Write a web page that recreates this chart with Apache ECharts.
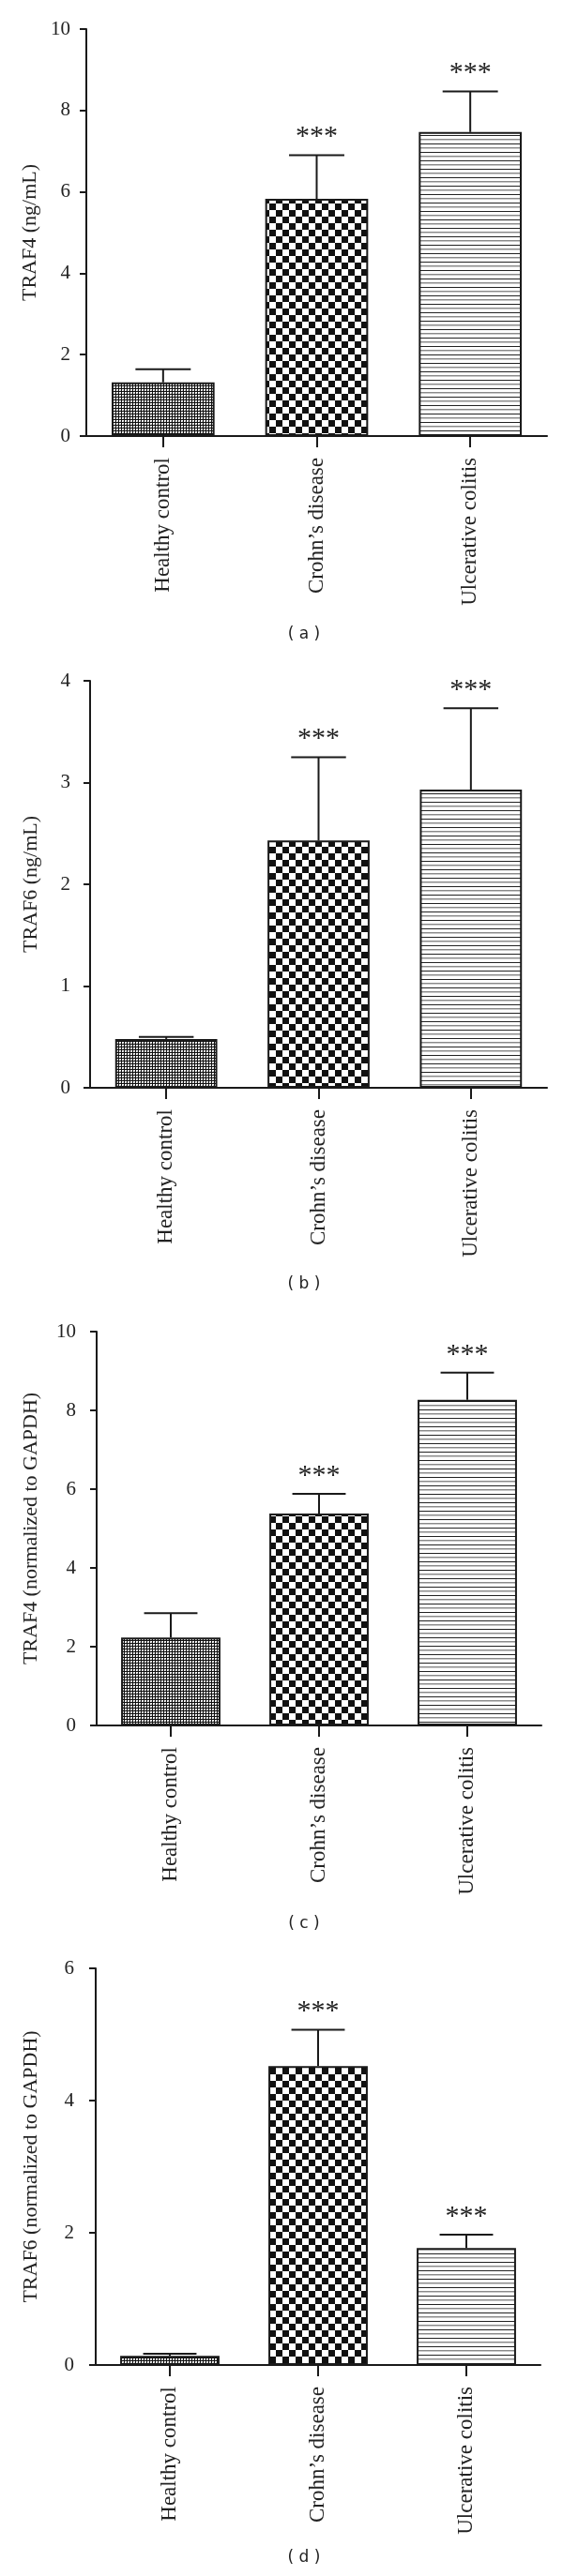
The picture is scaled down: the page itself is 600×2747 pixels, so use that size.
<!DOCTYPE html>
<html>
<head>
<meta charset="utf-8">
<script src="https://cdn.jsdelivr.net/npm/echarts@6/dist/echarts.min.js"></script>
<style>
html,body{margin:0;padding:0;background:#fff;}
#chart{width:600px;height:2747px;}
</style>
</head>
<body>
<div id="chart"></div>
<script>
// ---------- data ----------
const categories = ['Healthy control', 'Crohn\u2019s disease', 'Ulcerative colitis'];
const significance = ['', '***', '***'];

// (a) serum TRAF4 (ng/mL)
const traf4SerumMean = [1.32, 5.83, 7.47];
const traf4SerumSem  = [0.32, 1.07, 1.00];
// (b) serum TRAF6 (ng/mL)
const traf6SerumMean = [0.48, 2.43, 2.93];
const traf6SerumSem  = [0.02, 0.82, 0.80];
// (c) TRAF4 mRNA (normalized to GAPDH)
const traf4MrnaMean = [2.23, 5.38, 8.27];
const traf4MrnaSem  = [0.62, 0.50, 0.69];
// (d) TRAF6 mRNA (normalized to GAPDH)
const traf6MrnaMean = [0.14, 4.52, 1.77];
const traf6MrnaSem  = [0.03, 0.55, 0.20];

const yTitles = ['TRAF4 (ng/mL)', 'TRAF6 (ng/mL)', 'TRAF4 (normalized to GAPDH)', 'TRAF6 (normalized to GAPDH)'];
const yMax = [10, 4, 10, 6];
const yInterval = [2, 1, 2, 2];
const captions = ['( a )', '( b )', '( c )', '( d )'];

// ---------- patterns ----------
function makeTile(w, h, draw) {
  const c = document.createElement('canvas');
  c.width = w; c.height = h;
  const g = c.getContext('2d');
  g.fillStyle = '#fff'; g.fillRect(0, 0, w, h);
  draw(g);
  return c;
}
const fineTile = makeTile(3, 3, g => {
  g.fillStyle = '#111'; g.fillRect(0, 0, 3, 3);
  g.fillStyle = '#fff'; g.fillRect(1, 1, 1, 1); g.fillRect(2, 1, 1, 1); g.fillRect(1, 2, 1, 1);
  g.fillStyle = '#bbb'; g.fillRect(2, 2, 1, 1);
});
const checkTile = makeTile(14, 14, g => {
  g.fillStyle = '#111';
  g.fillRect(0, 0, 7, 7);
  g.fillRect(7, 7, 7, 7);
});
const stripeTile = makeTile(4, 9, g => {
  g.fillStyle = '#222'; g.fillRect(0, 0, 4, 1);
  g.fillStyle = '#8a8a8a'; g.fillRect(0, 4, 4, 1);
  g.fillStyle = '#c8c8c8'; g.fillRect(0, 5, 4, 1);
});
const patterns = [
  { image: fineTile, repeat: 'repeat' },
  { image: checkTile, repeat: 'repeat' },
  { image: stripeTile, repeat: 'repeat' }
];

// ---------- layout ----------
const layouts = [
  { left: 92,  top: 31,   width: 491, height: 434, nameGap: 48, yMargin: 17, capTop: 668 },
  { left: 96,  top: 726,  width: 487, height: 434, nameGap: 52, yMargin: 21, capTop: 1361 },
  { left: 103, top: 1420, width: 474, height: 420, nameGap: 59, yMargin: 22, capTop: 2043 },
  { left: 102, top: 2099, width: 474, height: 423, nameGap: 58, yMargin: 23, capTop: 2719 }
];

const means = [traf4SerumMean, traf6SerumMean, traf4MrnaMean, traf6MrnaMean];
const sems  = [traf4SerumSem, traf6SerumSem, traf4MrnaSem, traf6MrnaSem];

const INK = '#1a1a1a';
const SERIF = '"Liberation Serif", "Times New Roman", serif';

const grids = [], xAxes = [], yAxes = [], series = [], titles = [];

layouts.forEach((L, i) => {
  grids.push({ left: L.left, top: L.top, width: L.width, height: L.height, containLabel: false, outerBoundsMode: 'none' });
  xAxes.push({
    type: 'category', gridIndex: i, data: categories,
    axisLine: { show: true, lineStyle: { color: INK, width: 2 } },
    axisTick: { show: true, alignWithLabel: true, length: 12, lineStyle: { color: INK, width: 2 } },
    axisLabel: { rotate: 90, margin: 23, color: '#222', fontFamily: SERIF, fontSize: 23, interval: 0 },
    splitLine: { show: false }
  });
  yAxes.push({
    type: 'value', gridIndex: i, min: 0, max: yMax[i], interval: yInterval[i],
    name: yTitles[i], nameLocation: 'middle', nameGap: L.nameGap,
    nameTextStyle: { color: '#222', fontFamily: SERIF, fontSize: 22 },
    axisLine: { show: true, lineStyle: { color: INK, width: 2 } },
    axisTick: { show: true, length: 7, lineStyle: { color: INK, width: 2 } },
    axisLabel: { margin: L.yMargin, color: '#222', fontFamily: SERIF, fontSize: 21 },
    splitLine: { show: false }
  });
  series.push({
    type: 'bar', xAxisIndex: i, yAxisIndex: i, barWidth: '67%',
    data: means[i].map((v, k) => ({ value: v, itemStyle: { color: patterns[k] } })),
    itemStyle: { borderColor: INK, borderWidth: 2 },
    emphasis: { disabled: true },
    silent: true, animation: false
  });
  series.push({
    type: 'custom', xAxisIndex: i, yAxisIndex: i,
    data: means[i].map((v, k) => [k, v, sems[i][k]]),
    encode: { x: 0, y: 1 },
    silent: true, animation: false, z: 5,
    renderItem: (params, api) => {
      const k = api.value(0), m = api.value(1), e = api.value(2);
      const star = significance[k];
      const base = api.coord([k, m]);
      const top = api.coord([k, m + e]);
      const half = api.size([1, 0])[0] * 0.18;
      const children = [
        { type: 'line', shape: { x1: base[0], y1: base[1], x2: top[0], y2: top[1] }, style: { stroke: INK, lineWidth: 2 } },
        { type: 'line', shape: { x1: top[0] - half, y1: top[1], x2: top[0] + half, y2: top[1] }, style: { stroke: INK, lineWidth: 2 } }
      ];
      if (star) {
        children.push({ type: 'text', x: top[0], y: top[1] - 19,
          style: { text: star, fill: '#222', font: '30px ' + SERIF, align: 'center', verticalAlign: 'middle' } });
      }
      return { type: 'group', children };
    }
  });
  titles.push({
    text: captions[i], left: 324, top: L.capTop, textAlign: 'center', padding: 0,
    textStyle: { fontFamily: '"DejaVu Sans", Verdana, sans-serif', fontSize: 17, fontWeight: 'normal', color: '#222' }
  });
});

const chart = echarts.init(document.getElementById('chart'), null, { renderer: 'canvas' });
chart.setOption({
  backgroundColor: '#fff',
  animation: false,
  title: titles,
  grid: grids,
  xAxis: xAxes,
  yAxis: yAxes,
  series: series
});
</script>
</body>
</html>
